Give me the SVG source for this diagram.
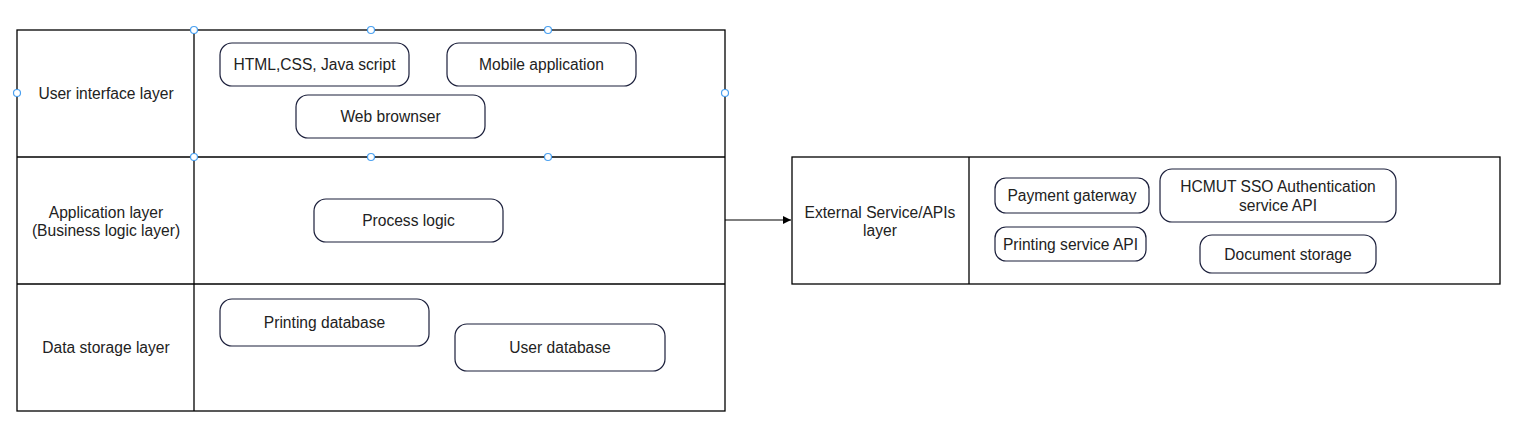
<svg xmlns="http://www.w3.org/2000/svg" width="1517" height="435" viewBox="0 0 1517 435">
<style>
.frame{fill:none;stroke:#000;stroke-width:1.3}
.box{fill:#fff;stroke:#1b1f3b;stroke-width:1.2}
text{font-family:"Liberation Sans",Arial,sans-serif;font-size:15.6px;fill:#222;text-anchor:middle;dominant-baseline:central}
.h{fill:#fff;stroke:#4aa0f0;stroke-width:1.2}
</style>
<defs>
<marker id="arr" markerWidth="10" markerHeight="10" refX="8" refY="4" orient="auto" markerUnits="userSpaceOnUse">
<path d="M0,0 L8,4 L0,8 Z" fill="#000"/>
</marker>
</defs>
<rect width="1517" height="435" fill="#fff"/>
<g id="main-table">
<rect class="frame" x="17" y="30" width="708" height="381"/>
<line class="frame" x1="17" y1="157" x2="725" y2="157"/>
<line class="frame" x1="17" y1="284" x2="725" y2="284"/>
<line class="frame" x1="194" y1="30" x2="194" y2="411"/>
</g>
<g id="ui-layer"><text x="106" y="93">User interface layer</text></g>
<g id="app-layer"><text x="106" y="212">Application layer</text><text x="106" y="230">(Business logic layer)</text></g>
<g id="data-layer"><text x="106" y="347">Data storage layer</text></g>
<g id="html"><rect class="box" x="220" y="43" width="189" height="43" rx="12"/><text x="314.5" y="64">HTML,CSS, Java script</text></g>
<g id="mobile"><rect class="box" x="447" y="43" width="189" height="43" rx="12"/><text x="541.5" y="64">Mobile application</text></g>
<g id="web"><rect class="box" x="296" y="95" width="189" height="43" rx="12"/><text x="390.5" y="116">Web brownser</text></g>
<g id="process"><rect class="box" x="314" y="199" width="189" height="43" rx="12"/><text x="408.5" y="220">Process logic</text></g>
<g id="printdb"><rect class="box" x="220" y="299" width="209" height="47" rx="12"/><text x="324.5" y="322">Printing database</text></g>
<g id="userdb"><rect class="box" x="455" y="324" width="210" height="47" rx="12"/><text x="560" y="347.5">User database</text></g>
<g id="ext-table">
<rect class="frame" x="792" y="157" width="708" height="127"/>
<line class="frame" x1="969" y1="157" x2="969" y2="284"/>
</g>
<g id="ext-layer"><text x="880" y="212">External Service/APIs</text><text x="880" y="230">layer</text></g>
<g id="payment"><rect class="box" x="995" y="178" width="154" height="35" rx="11"/><text x="1072" y="195.5">Payment gaterway</text></g>
<g id="sso"><rect class="box" x="1160" y="169" width="236" height="53" rx="12"/><text x="1278" y="186">HCMUT SSO Authentication</text><text x="1278" y="205">service API</text></g>
<g id="printapi"><rect class="box" x="995" y="227" width="151" height="34" rx="11"/><text x="1070.5" y="244">Printing service API</text></g>
<g id="docstore"><rect class="box" x="1200" y="235" width="176" height="38" rx="12"/><text x="1288" y="254">Document storage</text></g>
<g id="connectors">
<line x1="725" y1="220" x2="791" y2="220" stroke="#000" stroke-width="1.2" marker-end="url(#arr)"/>
</g>
<g id="handles">
<circle class="h" cx="194" cy="30" r="3.5"/>
<circle class="h" cx="371" cy="30" r="3.5"/>
<circle class="h" cx="548" cy="30" r="3.5"/>
<circle class="h" cx="17" cy="93" r="3.5"/>
<circle class="h" cx="725" cy="93" r="3.5"/>
<circle class="h" cx="194" cy="157" r="3.5"/>
<circle class="h" cx="371" cy="157" r="3.5"/>
<circle class="h" cx="548" cy="157" r="3.5"/>
</g>
</svg>
